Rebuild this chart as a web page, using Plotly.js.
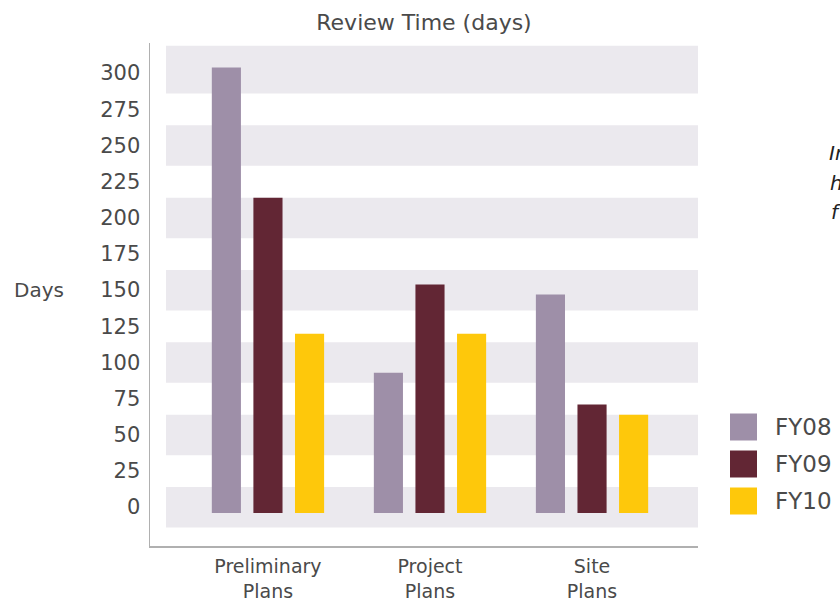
<!DOCTYPE html>
<html>
<head>
<meta charset="utf-8">
<script src="https://cdn.plot.ly/plotly-3.0.1.min.js"></script>
<style>html,body{margin:0;padding:0;background:#fff;}#chart{width:840px;height:603px;}</style>
</head>
<body>
<div id="chart"></div>
<script>
// ---- data ----
const categories = ["Preliminary<br>Plans", "Project<br>Plans", "Site<br>Plans"];
const seriesNames = ["FY08", "FY09", "FY10"];
const fy08 = [308, 97, 151];
const fy09 = [218, 158, 75];
const fy10 = [124, 124, 68];
const tickValues = [0, 25, 50, 75, 100, 125, 150, 175, 200, 225, 250, 275, 300];
const tickLabels = ["0", "25", "50", "75", "100", "125", "150", "175", "200", "225", "250", "275", "300"];
const colors = ["#9e8fa8", "#622634", "#fec80b"];

const seriesValues = [fy08, fy09, fy10];
const FONT = "DejaVu Sans, sans-serif";
const TXT = "#4a4a4a";

const traces = seriesValues.map((vals, i) => ({
  type: "bar",
  name: seriesNames[i],
  x: categories,
  y: vals,
  marker: {color: colors[i]},
  showlegend: false,
  hoverinfo: "x+y+name"
}));

// plot area pixel geometry
const L = 150, R = 142, T = 43, B = 57, W = 840, H = 603;
const pw = W - L - R, ph = H - T - B;
const px = v => (v - L) / pw;           // pixel x -> paper
const py = v => (H - B - v) / ph;        // pixel y -> paper

// background bands around every 50-day label
const shapes = [];
tickValues.filter(t => t % 50 === 0).forEach(t => {
  shapes.push({
    type: "rect", layer: "below", xref: "paper", yref: "y",
    x0: px(166), x1: 1, y0: t - 10, y1: (t === 300 ? 323 : t + 18),
    fillcolor: "#ebe9ee", line: {width: 0}
  });
});

const annotations = [
  {text: "Days", xref: "paper", yref: "paper", x: px(12), y: py(290), xanchor: "left", yanchor: "middle",
   showarrow: false, font: {family: FONT, size: 20, color: TXT}},
  {text: "In", xref: "paper", yref: "paper", x: px(827), y: py(153), xanchor: "left", yanchor: "middle",
   showarrow: false, font: {family: FONT, size: 20, color: "#222", style: "italic"}},
  {text: "h", xref: "paper", yref: "paper", x: px(828), y: py(183), xanchor: "left", yanchor: "middle",
   showarrow: false, font: {family: FONT, size: 20, color: "#222", style: "italic"}},
  {text: "f", xref: "paper", yref: "paper", x: px(829), y: py(212), xanchor: "left", yanchor: "middle",
   showarrow: false, font: {family: FONT, size: 20, color: "#222", style: "italic"}}
];

// custom legend (large square swatches)
const legendRows = [427, 464, 501];
seriesNames.forEach((n, i) => {
  const c = legendRows[i];
  shapes.push({type: "rect", xref: "paper", yref: "paper",
    x0: px(730), x1: px(757), y0: py(c + 13.5), y1: py(c - 13.5),
    fillcolor: colors[i], line: {width: 0}});
  annotations.push({text: n, xref: "paper", yref: "paper", x: px(773), y: py(c),
    xanchor: "left", yanchor: "middle", showarrow: false,
    font: {family: FONT, size: 23, color: TXT}});
});

const layout = {
  width: W, height: H,
  margin: {l: L, r: R, t: T, b: B, pad: 0},
  paper_bgcolor: "#fff", plot_bgcolor: "rgba(0,0,0,0)",
  font: {family: FONT, color: TXT},
  title: {text: "Review Time (days)", x: 0.5, xanchor: "center", xref: "paper",
          y: 1 - 22 / H, yanchor: "middle", yref: "container",
          font: {family: FONT, size: 22, color: TXT}},
  barmode: "group", bargap: 0.23, bargroupgap: 0.30,
  xaxis: {type: "category", range: [-0.728, 2.654], showgrid: false, zeroline: false,
          showline: true, linecolor: "#b0b0b0", linewidth: 1.5, ticks: "",
          tickfont: {family: FONT, size: 19, color: TXT}, ticklabelstandoff: 3},
  yaxis: {range: [-22.8, 324.9], tickvals: tickValues, ticktext: tickLabels,
          showgrid: false, zeroline: false, showline: true, linecolor: "#b0b0b0", linewidth: 1.5,
          ticks: "", ticklabelshift: -6, ticklabelstandoff: 4,
          tickfont: {family: FONT, size: 21, color: TXT}},
  shapes: shapes,
  annotations: annotations
};

Plotly.newPlot("chart", traces, layout, {displayModeBar: false, staticPlot: true});
</script>
</body>
</html>
